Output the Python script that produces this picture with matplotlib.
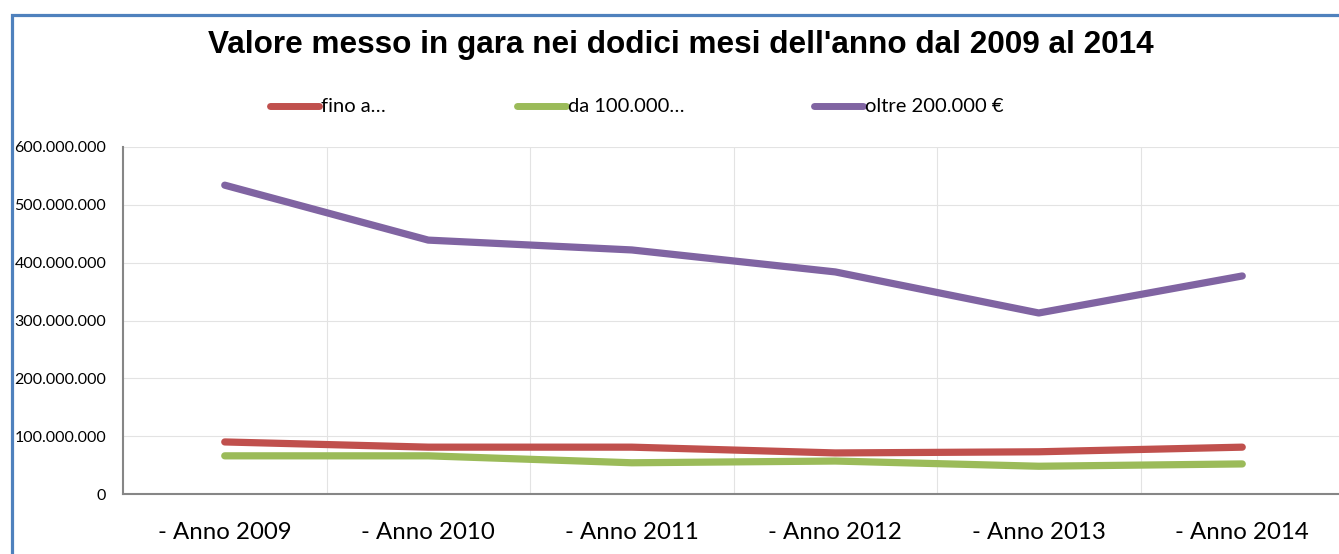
import matplotlib.pyplot as plt
import numpy as np
from matplotlib.lines import Line2D
from matplotlib.patches import Rectangle
from matplotlib.ticker import FuncFormatter

anni = ['- Anno 2009', '- Anno 2010', '- Anno 2011', '- Anno 2012', '- Anno 2013', '- Anno 2014']
fino_a = [90e6, 81e6, 81e6, 71e6, 73e6, 81e6]
da_100000 = [66e6, 66e6, 54e6, 57e6, 48e6, 52e6]
oltre_200000 = [534e6, 439e6, 422e6, 384e6, 313e6, 377e6]

serie = [('fino a…', fino_a, '#C0504D'),
         ('da 100.000…', da_100000, '#9BBB59'),
         ('oltre 200.000 €', oltre_200000, '#8064A2')]

W, H = 1339, 554
fig = plt.figure(figsize=(W / 100, H / 100), dpi=100)
fig.patch.set_facecolor('white')

# cornice blu del grafico (tagliata a destra e in basso)
fig.add_artist(Rectangle((11.5 / W, -0.1), 1.2, 1 - 14.5 / H + 0.1, transform=fig.transFigure,
                         fill=False, edgecolor='#4F81BD', linewidth=2.3))

ax = fig.add_axes([123 / W, 1 - 494 / H, (1344 - 123) / W, (494 - 147) / H])
x = np.arange(len(anni))
for nome, valori, colore in serie:
    ax.plot(x, valori, color=colore, linewidth=5.2, solid_capstyle='round', solid_joinstyle='round')

ax.set_xlim(-0.5, len(anni) - 0.5)
ax.set_ylim(0, 600e6)
ax.set_yticks(np.arange(0, 600e6 + 1, 100e6))
ax.yaxis.set_major_formatter(FuncFormatter(lambda v, p: f'{int(v):,}'.replace(',', '.')))
ax.set_xticks(x)
ax.set_xticklabels(anni)
ax.set_xticks(np.arange(0.5, len(anni) - 0.5, 1), minor=True)
ax.grid(True, axis='y', which='major', color='#E3E3E3', linewidth=0.8)
ax.grid(True, axis='x', which='minor', color='#E3E3E3', linewidth=0.8)
ax.set_axisbelow(True)
for s in ['top', 'right']:
    ax.spines[s].set_visible(False)
for s in ['left', 'bottom']:
    ax.spines[s].set_color('#868686')
    ax.spines[s].set_linewidth(1.5)
ax.tick_params(axis='both', which='both', length=0)
ax.tick_params(axis='y', labelsize=11.5, pad=12)
ax.tick_params(axis='x', labelsize=17.3, pad=20)
for lab in ax.get_yticklabels() + ax.get_xticklabels():
    lab.set_fontfamily('Lato')

fig.text(681 / W, 1 - 45 / H, "Valore messo in gara nei dodici mesi dell'anno dal 2009 al 2014",
         ha='center', va='center', fontsize=22.7, fontweight='bold', family='Liberation Sans')

# legenda
leg_pos = [(270, 319), (517, 566), (814, 863)]
for (x0, x1), (nome, valori, colore) in zip(leg_pos, serie):
    fig.add_artist(Line2D([x0 / W, x1 / W], [1 - 106 / H] * 2, transform=fig.transFigure,
                          color=colore, linewidth=5, solid_capstyle='round'))
    fig.text((x1 + 2) / W, 1 - 106 / H, nome, ha='left', va='center',
             fontsize=14.5, family='Lato')

fig.savefig('out.png', dpi=100)
